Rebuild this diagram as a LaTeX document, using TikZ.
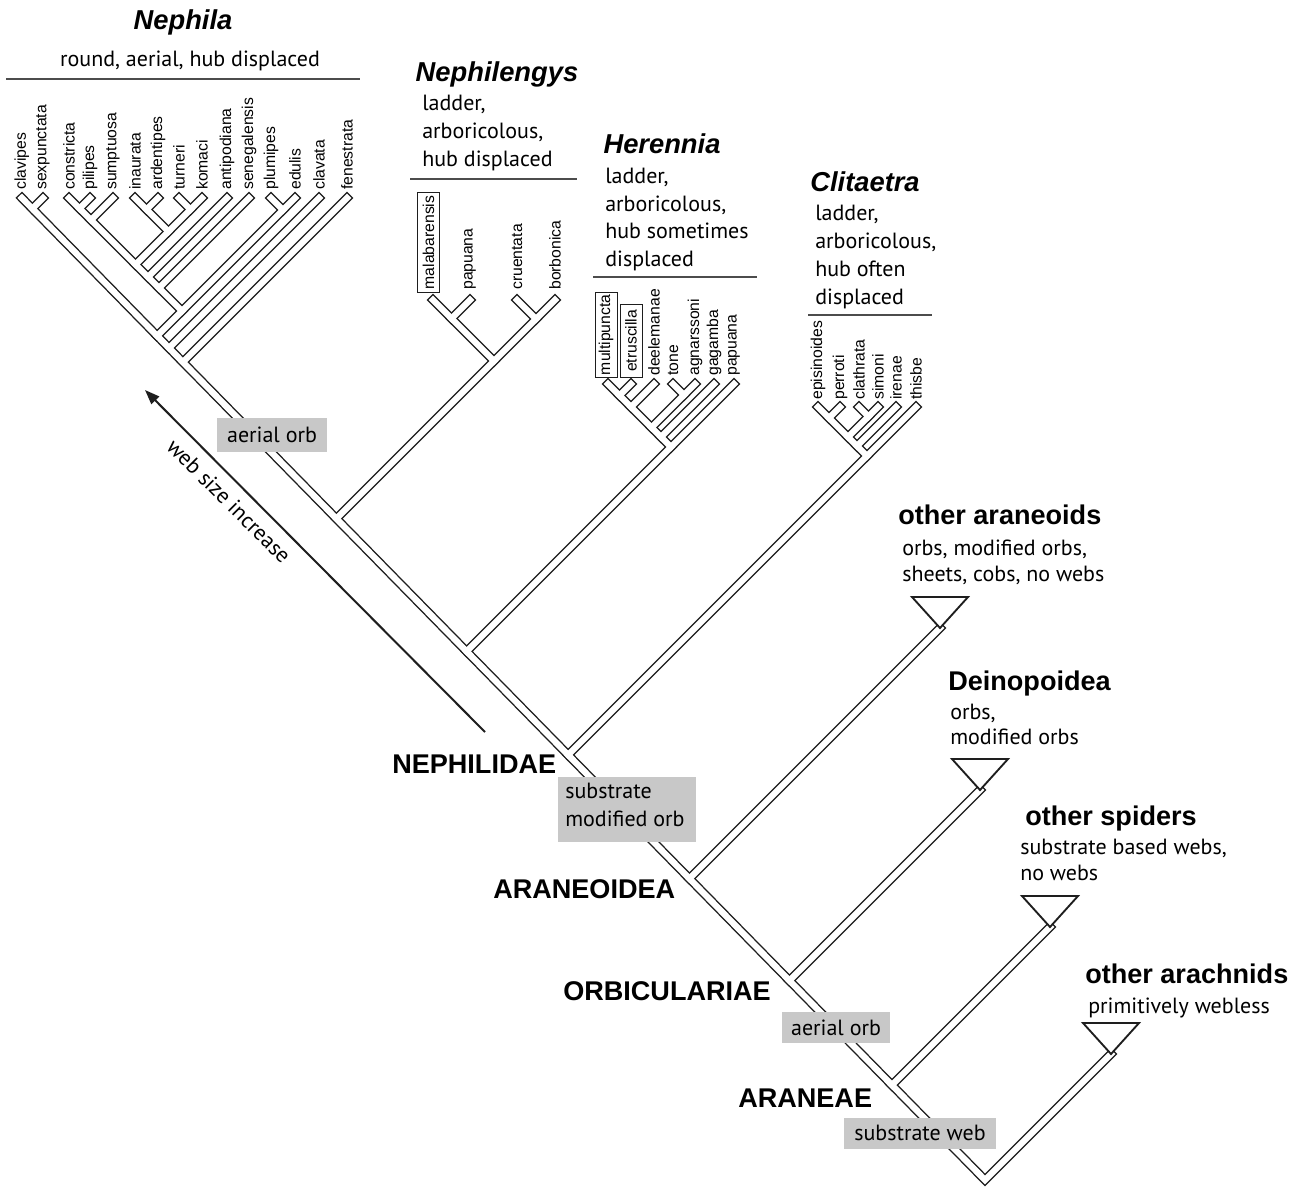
\documentclass[tikz,border=0pt]{standalone}
\usepackage{fontspec}
\setmainfont{PT Sans}
\newfontfamily\arialf{Liberation Sans}
\usetikzlibrary{arrows.meta}
\definecolor{boxgray}{RGB}{200,200,200}
\definecolor{inkc}{RGB}{30,30,30}
\begin{document}
\begin{tikzpicture}[x=0.75pt,y=-0.75pt,
  tipl/.style={font=\arialf\fontsize{11.8}{13}\selectfont, rotate=90, anchor=west, inner sep=0pt},
  desc/.style={font=\fontsize{16.5}{20}\selectfont, inner sep=0pt, anchor=base west},
  boldl/.style={font=\arialf\bfseries\fontsize{20.3}{24}\selectfont, inner sep=0pt, anchor=base west},
  ttl/.style={font=\arialf\bfseries\itshape\fontsize{20.5}{24}\selectfont, inner sep=0pt, anchor=base},
  gbox/.style={fill=boxgray, draw=none, inner sep=0pt, anchor=north west},
  tri/.style={draw=inkc, fill=white, line width=1.4pt, line join=miter},
  hline/.style={draw=black!70, line width=1.1pt},
  lbox/.style={draw=inkc, line width=0.75pt, inner sep=0pt},
  arr/.style={draw=inkc, line width=1.5pt, -{Triangle[length=11pt,width=8pt]}}
]
\useasboundingbox (0,0) rectangle (1302,1189);
\fill[white] (0,0) rectangle (1302,1189);

% ---------- main trunk coordinates
\coordinate (root) at (985,1180);
\coordinate (tArach) at (1111,1054);
\coordinate (Jsp) at (891.9,1085.1);
\coordinate (tSpid) at (1050,927);
\coordinate (Jde) at (789.4,980.6);
\coordinate (tDein) at (980,790);
\coordinate (Jar) at (689.4,878.6);
\coordinate (tAran) at (940,628);
\coordinate (Jcl) at (568.1,754.9);
\coordinate (Jhe) at (466.6,651.4);
\coordinate (Jne) at (336.4,518.6);
\coordinate (Jfe) at (182.9,362.1);
\coordinate (Jcv) at (169.0,348.0);
\coordinate (M) at (157.1,335.9);
\coordinate (Jsx) at (32.4,208.6);
\coordinate (tClavipes) at (21.9,198);
% ---------- Nephila
\coordinate (tSexp) at (43,198);
\coordinate (tConstr) at (69,198);
\coordinate (tPilip) at (90,198);
\coordinate (tSumpt) at (113,198);
\coordinate (tInaur) at (135,198);
\coordinate (tArden) at (158,198);
\coordinate (tTurn) at (179,198);
\coordinate (tKoma) at (202,198);
\coordinate (tAntip) at (227,198);
\coordinate (tSeneg) at (249,198);
\coordinate (tPlum) at (271,198);
\coordinate (tEdul) at (295,198);
\coordinate (tClava) at (319,198);
\coordinate (tFenes) at (347,198);
\coordinate (G) at (182,311);
\coordinate (PE) at (283,210);
\coordinate (sSen) at (159,288);
\coordinate (sAnt) at (148,277);
\coordinate (sI) at (135.5,264.5);
\coordinate (I0) at (168.5,231.5);
\coordinate (IA) at (146.5,209.5);
\coordinate (IB) at (190.5,209.5);
\coordinate (sSum) at (91,220);
\coordinate (sPil) at (79.5,208.5);
% ---------- Nephilengys
\coordinate (N0) at (494,361);
\coordinate (NA) at (451.5,318.5);
\coordinate (NB) at (536,319);
\coordinate (tMalab) at (433,300);
\coordinate (tPapN) at (470,300);
\coordinate (tCruen) at (517,300);
\coordinate (tBorb) at (555,300);
% ---------- Herennia
\coordinate (H0) at (671,447);
\coordinate (tHpap) at (734,384);
\coordinate (tMulti) at (608,384);
\coordinate (hGag) at (661,437);
\coordinate (tGag) at (714,384);
\coordinate (hTA) at (651.5,427.5);
\coordinate (TA) at (684,395);
\coordinate (tAgn) at (695,384);
\coordinate (tTone) at (673,384);
\coordinate (hDee) at (631,407);
\coordinate (tDee) at (654,384);
\coordinate (hEtr) at (619.5,395.5);
\coordinate (tEtr) at (631,384);
% ---------- Clitaetra
\coordinate (C0) at (867,456);
\coordinate (tThis) at (916,407);
\coordinate (tEpis) at (818,407);
\coordinate (cIr) at (857,446);
\coordinate (tIren) at (896,407);
\coordinate (cCS) at (848,437);
\coordinate (CSV) at (868.5,416.5);
\coordinate (tSim) at (878,407);
\coordinate (tClath) at (859,407);
\coordinate (cPer) at (829,418);
\coordinate (tPer) at (840,407);

% ---------- tubes (outline pass, then interior pass)
\foreach \lw/\cl in {6.8pt/inkc,4.7pt/white}{
 \begin{scope}[line width=\lw, draw=\cl, line cap=rect, line join=miter]
  \draw (tArach) -- (root) -- (tClavipes);
  \draw (Jsp) -- (tSpid);
  \draw (Jde) -- (tDein);
  \draw (Jar) -- (tAran);
  % Clitaetra
  \draw (Jcl) -- (C0) -- (tThis);
  \draw (C0) -- (tEpis);
  \draw (cIr) -- (tIren);
  \draw (cCS) -- (CSV) -- (tSim);
  \draw (CSV) -- (tClath);
  \draw (cPer) -- (tPer);
  % Herennia
  \draw (Jhe) -- (H0) -- (tHpap);
  \draw (H0) -- (tMulti);
  \draw (hGag) -- (tGag);
  \draw (hTA) -- (TA) -- (tAgn);
  \draw (TA) -- (tTone);
  \draw (hDee) -- (tDee);
  \draw (hEtr) -- (tEtr);
  % Nephilengys
  \draw (Jne) -- (N0) -- (NB) -- (tBorb);
  \draw (N0) -- (NA) -- (tMalab);
  \draw (NA) -- (tPapN);
  \draw (NB) -- (tCruen);
  % Nephila
  \draw (Jsx) -- (tSexp);
  \draw (Jfe) -- (tFenes);
  \draw (Jcv) -- (tClava);
  \draw (M) -- (G) -- (PE) -- (tEdul);
  \draw (PE) -- (tPlum);
  \draw (G) -- (tConstr);
  \draw (sSen) -- (tSeneg);
  \draw (sAnt) -- (tAntip);
  \draw (sI) -- (I0) -- (IB) -- (tKoma);
  \draw (I0) -- (IA) -- (tInaur);
  \draw (IA) -- (tArden);
  \draw (IB) -- (tTurn);
  \draw (sSum) -- (tSumpt);
  \draw (sPil) -- (tPilip);
 \end{scope}
}

% ---------- triangles
\draw[tri] (tAran) -- ++(-28,-31) -- ++(56,0) -- cycle;
\draw[tri] (tDein) -- ++(-28,-31) -- ++(56,0) -- cycle;
\draw[tri] (tSpid) -- ++(-28,-31) -- ++(56,0) -- cycle;
\draw[tri] (tArach) -- ++(-28,-31) -- ++(56,0) -- cycle;

% ---------- tip labels
\coordinate (lyN) at (0,190);
\coordinate (lyNg) at (0,290);
\coordinate (lyH) at (0,376);
\coordinate (lyC) at (0,400);
\node[tipl] (lClavipes) at (tClavipes |- lyN) {clavipes};
\node[tipl] (lSexp) at (tSexp |- lyN) {sexpunctata};
\node[tipl] (lConstr) at (tConstr |- lyN) {constricta};
\node[tipl] (lPilip) at (tPilip |- lyN) {pilipes};
\node[tipl] (lSumpt) at (tSumpt |- lyN) {sumptuosa};
\node[tipl] (lInaur) at (tInaur |- lyN) {inaurata};
\node[tipl] (lArden) at (tArden |- lyN) {ardentipes};
\node[tipl] (lTurn) at (tTurn |- lyN) {turneri};
\node[tipl] (lKoma) at (tKoma |- lyN) {komaci};
\node[tipl] (lAntip) at (tAntip |- lyN) {antipodiana};
\node[tipl] (lSeneg) at (tSeneg |- lyN) {senegalensis};
\node[tipl] (lPlum) at (tPlum |- lyN) {plumipes};
\node[tipl] (lEdul) at (tEdul |- lyN) {edulis};
\node[tipl] (lClava) at (tClava |- lyN) {clavata};
\node[tipl] (lFenes) at (tFenes |- lyN) {fenestrata};

\node[tipl, lbox, minimum width=75pt, minimum height=17pt] (lMalab) at (428.5,293) {malabarensis};
\node[tipl] (lPapN) at (tPapN |- lyNg) {papuana};
\node[tipl] (lCruen) at (tCruen |- lyNg) {cruentata};
\node[tipl] (lBorb) at (tBorb |- lyNg) {borbonica};

\node[tipl, lbox, minimum width=64pt, minimum height=16.5pt] (lMulti) at (606,378) {multipuncta};
\node[tipl, lbox, minimum width=55pt, minimum height=16.5pt] (lEtr) at (631,378) {etruscilla};
\node[tipl] (lDee) at (tDee |- lyH) {deelemanae};
\node[tipl] (lTone) at (tTone |- lyH) {tone};
\node[tipl] (lAgn) at (tAgn |- lyH) {agnarssoni};
\node[tipl] (lGag) at (tGag |- lyH) {gagamba};
\node[tipl] (lHpap) at (tHpap |- lyH) {papuana};

\node[tipl] (lEpis) at (tEpis |- lyC) {episinoides};
\node[tipl] (lPer) at (tPer |- lyC) {perroti};
\node[tipl] (lClath) at (tClath |- lyC) {clathrata};
\node[tipl] (lSim) at (tSim |- lyC) {simoni};
\node[tipl] (lIren) at (tIren |- lyC) {irenae};
\node[tipl] (lThis) at (tThis |- lyC) {thisbe};

% ---------- headers
\node[ttl] (hNeph) at (183,29) {Nephila};
\node[desc, anchor=base] (dNeph) at (190,66) {round, aerial, hub displaced};
\draw[hline] (6,79) -- (360,79);

\node[ttl] (hNg) at (497,81) {Nephilengys};
\node[desc] (dNg1) at (422,110) {ladder,};
\node[desc] (dNg2) at (422,138) {arboricolous,};
\node[desc] (dNg3) at (422,166) {hub displaced};
\draw[hline] (410,179) -- (577,179);

\node[ttl] (hHe) at (662,153) {Herennia};
\node[desc] (dHe1) at (605,183) {ladder,};
\node[desc] (dHe2) at (605,211) {arboricolous,};
\node[desc] (dHe3) at (605,238) {hub sometimes};
\node[desc] (dHe4) at (605,266) {displaced};
\draw[hline] (593,277) -- (757,277);

\node[ttl] (hCl) at (865,191) {Clitaetra};
\node[desc] (dCl1) at (815,220) {ladder,};
\node[desc] (dCl2) at (815,248) {arboricolous,};
\node[desc] (dCl3) at (815,276) {hub often};
\node[desc] (dCl4) at (815,304) {displaced};
\draw[hline] (808,315) -- (932,315);

% ---------- right-hand groups
\node[boldl] (oAr) at (898,524) {other araneoids};
\node[desc] (oAr1) at (902,555) {orbs, modified orbs,};
\node[desc] (oAr2) at (902,581) {sheets, cobs, no webs};
\node[boldl] (oDe) at (948,690) {Deinopoidea};
\node[desc] (oDe1) at (950,719) {orbs,};
\node[desc] (oDe2) at (950,744) {modified orbs};
\node[boldl] (oSp) at (1025,825) {other spiders};
\node[desc] (oSp1) at (1020,854) {substrate based webs,};
\node[desc] (oSp2) at (1020,880) {no webs};
\node[boldl] (oAh) at (1085,983) {other arachnids};
\node[desc] (oAh1) at (1088,1013) {primitively webless};

% ---------- clade names
\node[boldl] (nNeph) at (392,773) {NEPHILIDAE};
\node[boldl] (nAraneo) at (493,898) {ARANEOIDEA};
\node[boldl] (nOrb) at (563,1000) {ORBICULARIAE};
\node[boldl] (nAran) at (738,1107) {ARANEAE};

% ---------- grey boxes
\node[gbox, minimum width=82.5pt, minimum height=25.5pt] (bAer1) at (217,418) {};
\node[desc, anchor=base] (tAer1) at (272,442) {aerial orb};
\node[gbox, minimum width=103.5pt, minimum height=48.75pt] (bSub) at (558,777) {};
\node[desc] (tSub1) at (565,798) {substrate};
\node[desc] (tSub2) at (565,826) {modified orb};
\node[gbox, minimum width=81pt, minimum height=23.25pt] (bAer2) at (782,1012) {};
\node[desc, anchor=base] (tAer2) at (836,1035) {aerial orb};
\node[gbox, minimum width=114pt, minimum height=23.25pt] (bSw) at (844,1118) {};
\node[desc, anchor=base] (tSw) at (920,1140) {substrate web};

% ---------- web size arrow
\coordinate (arS) at (485,732);
\coordinate (arE) at (145,390);
\draw[arr] (arS) -- (arE);
\node[font=\fontsize{16.5}{20}\selectfont, rotate=-45, inner sep=0pt] (wsi) at (229,501) {web size increase};
\end{tikzpicture}
\end{document}
